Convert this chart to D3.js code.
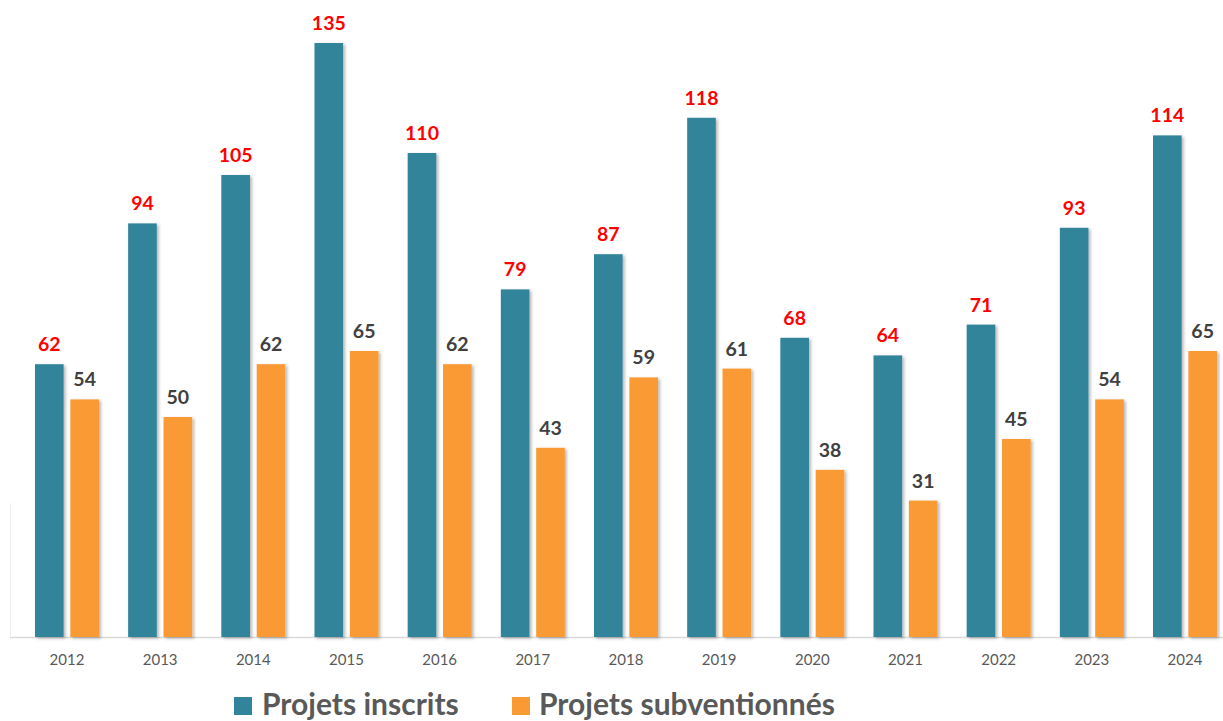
<!DOCTYPE html>
<html lang="fr">
<head>
<meta charset="utf-8">
<title>Projets inscrits et subventionnés 2012–2024</title>
<script src="https://cdn.jsdelivr.net/npm/d3@7"></script>
<style>
  html, body { margin: 0; padding: 0; background: #ffffff; }
  svg { display: block; }
</style>
</head>
<body>
<svg id="chart" width="1223" height="721"></svg>
<script>
// Years and yearly counts for the two series
const years = ["2012","2013","2014","2015","2016","2017","2018","2019","2020","2021","2022","2023","2024"];
const inscrits = [62, 94, 105, 135, 110, 79, 87, 118, 68, 64, 71, 93, 114];
const subventionnes = [54, 50, 62, 65, 62, 43, 59, 61, 38, 31, 45, 54, 65];
const seriesNames = ["Projets inscrits", "Projets subventionnés"];
const seriesColors = ["#31849b", "#f99a35"];
const labelColors = ["#ff0000", "#404040"];

const W = 1223, H = 721;
const baseY = 637, topY = 43;
const FONT = "Lato, 'Open Sans', sans-serif";

const svg = d3.select("#chart");

// Soft drop shadow under the bars
const defs = svg.append("defs");
const f = defs.append("filter").attr("id", "barShadow")
  .attr("x", "-20%").attr("y", "-5%").attr("width", "150%").attr("height", "115%");
f.append("feDropShadow").attr("dx", 2).attr("dy", 1.5).attr("stdDeviation", 1.4)
  .attr("flood-color", "#000").attr("flood-opacity", 0.28);

const x = d3.scaleBand().domain(years).range([20.4, 1231.6])
  .paddingInner(0.313).paddingOuter(0.1565);
const xs = d3.scaleBand().domain([0, 1]).range([0, x.bandwidth()]).paddingInner(0.19);
const y = d3.scaleLinear().domain([0, 135]).range([baseY, topY]);

const rows = years.map((yr, i) => ({ year: yr, values: [inscrits[i], subventionnes[i]] }));

// Baseline and a faint left guide
svg.append("line").attr("x1", 10).attr("x2", W).attr("y1", baseY + 0.5).attr("y2", baseY + 0.5)
  .attr("stroke", "#d9d9d9").attr("stroke-width", 1.5);
svg.append("line").attr("x1", 10.5).attr("x2", 10.5).attr("y1", 503).attr("y2", baseY)
  .attr("stroke", "#efefef").attr("stroke-width", 1);

const groups = svg.append("g").selectAll("g.year").data(rows).join("g")
  .attr("class", "year")
  .attr("transform", d => `translate(${x(d.year)},0)`);

groups.selectAll("rect").data(d => d.values.map((v, k) => ({ v, k }))).join("rect")
  .attr("x", d => xs(d.k))
  .attr("y", d => y(d.v))
  .attr("width", xs.bandwidth())
  .attr("height", d => baseY - y(d.v))
  .attr("fill", d => seriesColors[d.k])
  .attr("filter", "url(#barShadow)");

groups.selectAll("text.val").data(d => d.values.map((v, k) => ({ v, k }))).join("text")
  .attr("class", "val")
  .attr("x", d => xs(d.k) + xs.bandwidth() / 2)
  .attr("y", d => y(d.v) - 13)
  .attr("text-anchor", "middle")
  .attr("font-family", FONT)
  .attr("font-weight", 700)
  .attr("font-size", 19.5)
  .attr("fill", d => labelColors[d.k])
  .text(d => d.v);

// Category axis labels
const xAxis = d3.axisBottom(x).tickSize(0).tickPadding(0);
const ax = svg.append("g").attr("transform", `translate(0,${baseY})`).call(xAxis);
ax.select(".domain").remove();
ax.selectAll("text")
  .attr("y", 28)
  .attr("dy", 0)
  .attr("font-family", FONT)
  .attr("font-size", 15)
  .attr("fill", "#595959");

// Legend
const legendItems = [
  { name: seriesNames[0], color: seriesColors[0], sx: 234, tx: 262 },
  { name: seriesNames[1], color: seriesColors[1], sx: 512, tx: 539 }
];
const lg = svg.append("g").selectAll("g").data(legendItems).join("g");
lg.append("rect").attr("x", d => d.sx).attr("y", 697).attr("width", 18).attr("height", 18)
  .attr("fill", d => d.color);
lg.append("text").attr("x", d => d.tx).attr("y", 715)
  .attr("font-family", FONT).attr("font-weight", 700).attr("font-size", 30)
  .attr("fill", "#595959")
  .text(d => d.name);
</script>
</body>
</html>
